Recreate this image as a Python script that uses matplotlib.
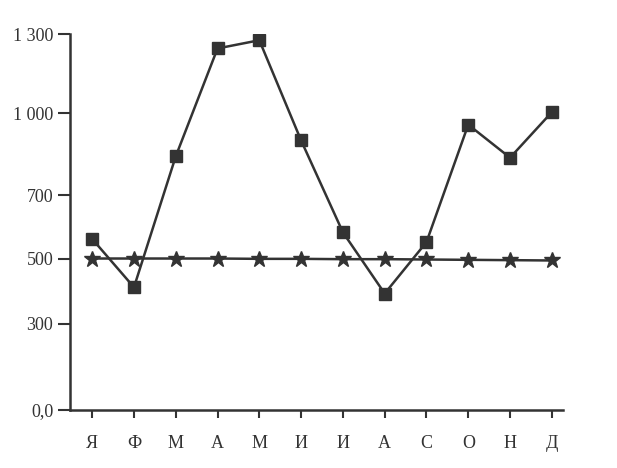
import numpy as np
import matplotlib
matplotlib.use("Agg")
import matplotlib.pyplot as plt

# months (Cyrillic initials)
months = ["Я", "Ф", "М", "А", "М", "И", "И", "А", "С", "О", "Н", "Д"]
squares = [562, 412, 843, 1246, 1277, 901, 583, 393, 552, 959, 838, 1005]
stars = [500, 500, 500, 500, 499, 499, 498, 498, 497, 496, 495, 494]

y_ticks = [0, 300, 500, 700, 1000, 1300]
y_tick_labels = ["0,0", "300", "500", "700", "1 000", "1 300"]

# uneven spacing of the printed axis
tick_frac = [0.0, 0.229, 0.403, 0.571, 0.789, 1.0]
vals = np.array([-1300.0] + y_ticks + [2600.0])
fracs = np.array([-1.0] + tick_frac + [2.0])


def fwd(v):
    return np.interp(v, vals, fracs)


def inv(f):
    return np.interp(f, fracs, vals)


plt.rcParams['font.family'] = ['Liberation Serif', 'DejaVu Serif']
ink = "#333333"

fig = plt.figure(figsize=(6.17, 4.68), dpi=100)
ax = fig.add_axes([0.1135, 0.124, 0.7985, 0.803])
ax.set_yscale('function', functions=(fwd, inv))

x = np.arange(len(months))
ax.plot(x, squares, color=ink, lw=1.8, marker='s', ms=8, mfc=ink, mec=ink)
ax.plot(x, stars, color=ink, lw=1.8, marker='*', ms=12, mfc=ink, mec=ink)

ax.set_xlim(-0.53, 11.26)
ax.set_ylim(0, 1300)
ax.set_xticks(x)
ax.set_xticklabels(months)
ax.set_yticks(y_ticks)
ax.set_yticklabels(y_tick_labels)
ax.minorticks_off()

for side in ['top', 'right']:
    ax.spines[side].set_visible(False)
for side in ['left', 'bottom']:
    ax.spines[side].set_linewidth(1.8)
    ax.spines[side].set_color(ink)

ax.tick_params(axis='y', length=9, width=1.5, pad=3, labelsize=13, colors=ink)
ax.tick_params(axis='x', length=6, width=1.5, pad=12, labelsize=13, colors=ink)

fig.savefig("out.png", dpi=100)
